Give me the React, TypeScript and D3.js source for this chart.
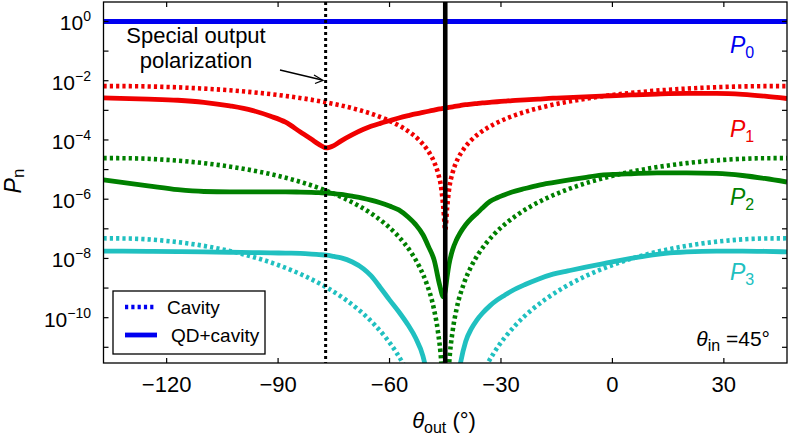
import React from 'react';
import * as d3 from 'd3';

// ---- data ----
const cavityTheta = [-137, -130, -120, -110, -100, -90, -83, -77, -72, -68, -64, -61, -58, -56, -54, -52, -50, -48, -47, -46, -45.5, -45, -44.5, -44, -43, -42, -40, -38, -36, -34, -32, -29, -26, -22, -18, -13, -7, 0, 10, 20, 30, 40, 47];
const p1Cavity = [6.59e-3, 6.55e-3, 6.16e-3, 5.42e-3, 4.43e-3, 3.30e-3, 2.50e-3, 1.85e-3, 1.36e-3, 1.01e-3, 7.00e-4, 5.01e-4, 3.34e-4, 2.40e-4, 1.62e-4, 9.80e-5, 5.01e-5, 1.81e-5, 8.04e-6, 2.01e-6, 5.03e-7, 9e-8, 5.03e-7, 2.01e-6, 8.04e-6, 1.81e-5, 5.01e-5, 9.80e-5, 1.62e-4, 2.40e-4, 3.34e-4, 5.01e-4, 7.00e-4, 1.01e-3, 1.36e-3, 1.85e-3, 2.50e-3, 3.30e-3, 4.43e-3, 5.42e-3, 6.16e-3, 6.55e-3, 6.59e-3];
const p2Cavity = [2.44e-5, 2.41e-5, 2.13e-5, 1.65e-5, 1.10e-5, 6.13e-6, 3.52e-6, 1.93e-6, 1.04e-6, 5.71e-7, 2.75e-7, 1.41e-7, 6.27e-8, 3.25e-8, 1.47e-8, 5.40e-9, 1.41e-9, 1.84e-10, 3.63e-11, 2.27e-12, 1.42e-13, 1e-15, 1.42e-13, 2.27e-12, 3.63e-11, 1.84e-10, 1.41e-9, 5.40e-9, 1.47e-8, 3.25e-8, 6.27e-8, 1.41e-7, 2.75e-7, 5.71e-7, 1.04e-6, 1.93e-6, 3.52e-6, 6.13e-6, 1.10e-5, 1.65e-5, 2.13e-5, 2.41e-5, 2.44e-5];
const p3Cavity = [4.78e-8, 4.69e-8, 3.90e-8, 2.66e-8, 1.45e-8, 6.0e-9, 2.61e-9, 1.06e-9, 4.20e-10, 1.71e-10, 5.72e-11, 2.11e-11, 6.22e-12, 2.32e-12, 7.03e-13, 1.57e-13, 2.10e-14, 9.9e-16, 8.7e-17, 1e-18, 1e-18, 1e-18, 1e-18, 1e-18, 8.7e-17, 9.9e-16, 2.10e-14, 1.57e-13, 7.03e-13, 2.32e-12, 6.22e-12, 2.11e-11, 5.72e-11, 1.71e-10, 4.20e-10, 1.06e-9, 2.61e-9, 6.0e-9, 1.45e-8, 2.66e-8, 3.90e-8, 4.69e-8, 4.78e-8];

const qdTheta = [-137, -125, -117, -110, -103, -97, -92, -88, -84, -81, -79, -77, -75, -73, -70, -67, -65, -62.5, -60, -57.5, -55, -53, -51, -49.5, -48, -46.5, -45.5, -45, -44.5, -44, -43, -42, -41, -39.5, -38, -36.5, -35, -33, -31, -29, -27, -23.5, -20, -16, -12, -7.5, -3, 1, 5, 12, 20, 28, 35, 41, 47];
const p1QD = [2.63e-3, 2.40e-3, 2.19e-3, 1.86e-3, 1.41e-3, 1.00e-3, 6.31e-4, 3.98e-4, 1.86e-4, 1.05e-4, 7.08e-5, 5.37e-5, 6.46e-5, 9.33e-5, 1.51e-4, 2.29e-4, 2.88e-4, 3.63e-4, 4.47e-4, 5.50e-4, 6.61e-4, 7.59e-4, 8.51e-4, 9.33e-4, 1.02e-3, 1.12e-3, 1.17e-3, 1.20e-3, 1.23e-3, 1.26e-3, 1.32e-3, 1.38e-3, 1.45e-3, 1.55e-3, 1.62e-3, 1.70e-3, 1.78e-3, 1.86e-3, 1.95e-3, 2.04e-3, 2.14e-3, 2.26e-3, 2.40e-3, 2.57e-3, 2.69e-3, 2.85e-3, 3.02e-3, 3.16e-3, 3.31e-3, 3.55e-3, 3.72e-3, 3.72e-3, 3.47e-3, 3.02e-3, 2.51e-3];
const p2QD = [4.47e-6, 2.82e-6, 2.09e-6, 1.82e-6, 1.78e-6, 1.78e-6, 1.78e-6, 1.78e-6, 1.74e-6, 1.70e-6, 1.66e-6, 1.62e-6, 1.55e-6, 1.45e-6, 1.26e-6, 1.07e-6, 9.33e-7, 7.59e-7, 5.89e-7, 4.37e-7, 2.51e-7, 1.41e-7, 6.31e-8, 2.51e-8, 8.91e-9, 1.26e-9, 5.01e-10, 7.94e-10, 2.40e-9, 6.17e-9, 2.00e-8, 4.17e-8, 7.24e-8, 1.38e-7, 2.24e-7, 3.31e-7, 5.01e-7, 8.32e-7, 1.12e-6, 1.41e-6, 1.74e-6, 2.29e-6, 2.95e-6, 3.63e-6, 4.37e-6, 5.37e-6, 6.46e-6, 6.92e-6, 7.24e-6, 7.76e-6, 7.76e-6, 7.41e-6, 6.31e-6, 5.01e-6, 3.80e-6];
const p3QD = [1.78e-8, 1.74e-8, 1.70e-8, 1.66e-8, 1.62e-8, 1.58e-8, 1.55e-8, 1.51e-8, 1.48e-8, 1.41e-8, 1.35e-8, 1.29e-8, 1.17e-8, 1.05e-8, 7.59e-9, 4.47e-9, 2.63e-9, 1.05e-9, 3.98e-10, 1.58e-10, 5.62e-11, 2.09e-11, 5.01e-12, 6.31e-13, 3.16e-14, 1e-15, 1e-16, 1e-16, 1e-16, 1e-15, 3.16e-14, 3.98e-13, 2.51e-12, 1.58e-11, 4.17e-11, 8.32e-11, 1.41e-10, 2.51e-10, 3.98e-10, 5.75e-10, 8.13e-10, 1.32e-9, 2.00e-9, 2.95e-9, 3.80e-9, 5.01e-9, 6.46e-9, 8.13e-9, 1.0e-8, 1.38e-8, 1.66e-8, 1.78e-8, 1.78e-8, 1.74e-8, 1.66e-8];

const p0Theta = [-137, 47];
const p0Values = [1, 1];

const xTicks = [-120, -90, -60, -30, 0, 30];
const yLabelExponents = [0, -2, -4, -6, -8, -10];
const yTickExponents = [0, -1, -2, -3, -4, -5, -6, -7, -8, -9, -10, -11];
const specialAngle = -77.2;
const crossAngle = -45;
const thetaInDeg = 45;
const seriesLabels = ['0', '1', '2', '3'];
const legendLabels = ['Cavity', 'QD+cavity'];
const annotationLines = ['Special output', 'polarization'];

const COLORS = { p0: '#0000f0', p1: '#f00000', p2: '#008000', p3: '#20c0c0' };
const FONT = '"Liberation Sans", Arial, Helvetica, sans-serif';

export default function App() {
  const W = 788, H = 442;
  const L = 103.5, R = 787, T = 2, B = 363;
  const x = d3.scaleLinear().domain([-137, 47]).range([L, R]);
  const y = d3.scaleLog().domain([Math.pow(10, -11.53), Math.pow(10, 0.658)]).range([B, T]);

  const line = d3.line<[number, number]>()
    .x(d => x(d[0]))
    .y(d => y(d[1]))
    .curve(d3.curveMonotoneX);

  const zip = (a: number[], b: number[]) => a.map((t, i) => [t, b[i]] as [number, number]);
  const minus = (n: number) => (n < 0 ? '\u2212' + Math.abs(n) : String(n));

  const dotted = { strokeWidth: 4.6, strokeDasharray: '3.2,3.1', fill: 'none' };
  const solid = { strokeWidth: 4.8, fill: 'none' };

  const cavSeries = [
    { v: p1Cavity, c: COLORS.p1 },
    { v: p2Cavity, c: COLORS.p2 },
    { v: p3Cavity, c: COLORS.p3 },
  ];
  const qdSeries = [
    { v: p1QD, c: COLORS.p1 },
    { v: p2QD, c: COLORS.p2 },
    { v: p3QD, c: COLORS.p3 },
  ];

  const pLabels = [
    { t: seriesLabels[0], c: COLORS.p0, yy: 53 },
    { t: seriesLabels[1], c: COLORS.p1, yy: 137 },
    { t: seriesLabels[2], c: COLORS.p2, yy: 205 },
    { t: seriesLabels[3], c: COLORS.p3, yy: 280 },
  ];

  return (
    <svg width={W} height={H} style={{ position: 'absolute', left: 0, top: 0, background: '#fff' }} fontFamily={FONT}>
      <defs>
        <clipPath id="plotClip">
          <rect x={L} y={T} width={R - L} height={B - T} />
        </clipPath>
      </defs>
      <rect x={0} y={0} width={W} height={H} fill="#fff" />

      <g clipPath="url(#plotClip)">
        <path d={line(zip(p0Theta, p0Values)) || ''} stroke={COLORS.p0} {...solid} />
        {cavSeries.map((s, i) => (
          <path key={'c' + i} d={line(zip(cavityTheta, s.v)) || ''} stroke={s.c} {...dotted} />
        ))}
        {qdSeries.map((s, i) => (
          <path key={'q' + i} d={line(zip(qdTheta, s.v)) || ''} stroke={s.c} {...solid} />
        ))}
        <line x1={x(specialAngle)} x2={x(specialAngle)} y1={T} y2={B} stroke="#000" strokeWidth={3} strokeDasharray="3,3" />
        <line x1={x(crossAngle)} x2={x(crossAngle)} y1={T} y2={B} stroke="#000" strokeWidth={4.6} />
      </g>

      {/* axes box */}
      <rect x={L} y={T} width={R - L} height={B - T} fill="none" stroke="#000" strokeWidth={1.3} />
      {xTicks.map(t => (
        <g key={'xt' + t}>
          <line x1={x(t)} x2={x(t)} y1={B} y2={B - 5} stroke="#000" strokeWidth={1.2} />
          <line x1={x(t)} x2={x(t)} y1={T} y2={T + 5} stroke="#000" strokeWidth={1.2} />
          <text x={x(t)} y={392} textAnchor="middle" fontSize={22}>{minus(t)}</text>
        </g>
      ))}
      {yTickExponents.map(e => (
        <g key={'yt' + e}>
          <line x1={L} x2={L + 5} y1={y(Math.pow(10, e))} y2={y(Math.pow(10, e))} stroke="#000" strokeWidth={1.2} />
          <line x1={R} x2={R - 5} y1={y(Math.pow(10, e))} y2={y(Math.pow(10, e))} stroke="#000" strokeWidth={1.2} />
        </g>
      ))}
      {yLabelExponents.map(e => (
        <text key={'yl' + e} x={91} y={y(Math.pow(10, e)) + 9} textAnchor="end" fontSize={21}>
          <tspan>10</tspan>
          <tspan dy={-9} fontSize={14}>{minus(e)}</tspan>
        </text>
      ))}

      {/* axis labels */}
      <text transform="translate(21,181) rotate(-90)" textAnchor="middle" fontSize={23}>
        <tspan fontStyle="italic">P</tspan>
        <tspan dy={3} fontSize={17}>n</tspan>
      </text>
      <text x={444} y={428} textAnchor="middle" fontSize={22}>
        <tspan fontStyle="italic">θ</tspan>
        <tspan dy={5} fontSize={16}>out</tspan>
        <tspan dy={-5}> (°)</tspan>
      </text>

      {/* series labels */}
      {pLabels.map(p => (
        <text key={'pl' + p.t} x={730} y={p.yy} fill={p.c} fontSize={23}>
          <tspan fontStyle="italic">P</tspan>
          <tspan dy={5} fontSize={16}>{p.t}</tspan>
        </text>
      ))}

      {/* theta_in */}
      <text x={770} y={346} textAnchor="end" fontSize={21}>
        <tspan fontStyle="italic">θ</tspan>
        <tspan dy={5} fontSize={16}>in</tspan>
        <tspan dy={-5}>{' =' + thetaInDeg + '°'}</tspan>
      </text>

      {/* annotation */}
      <text x={196} y={43} textAnchor="middle" fontSize={22}>{annotationLines[0]}</text>
      <text x={196} y={68} textAnchor="middle" fontSize={22}>{annotationLines[1]}</text>
      <line x1={280} y1={70} x2={322} y2={80} stroke="#000" strokeWidth={1.3} />
      <polyline points="314,75 323,80.3 315,83.5" fill="none" stroke="#000" strokeWidth={1.3} />

      {/* legend */}
      <rect x={113} y={291} width={152} height={63} fill="#fff" stroke="#000" strokeWidth={1.3} />
      <line x1={125} x2={154} y1={307} y2={307} stroke={COLORS.p0} {...dotted} />
      <line x1={125} x2={157} y1={335} y2={335} stroke={COLORS.p0} strokeWidth={4.8} />
      <text x={167} y={314} fontSize={19}>{legendLabels[0]}</text>
      <text x={171} y={342} fontSize={19}>{legendLabels[1]}</text>
    </svg>
  );
}
